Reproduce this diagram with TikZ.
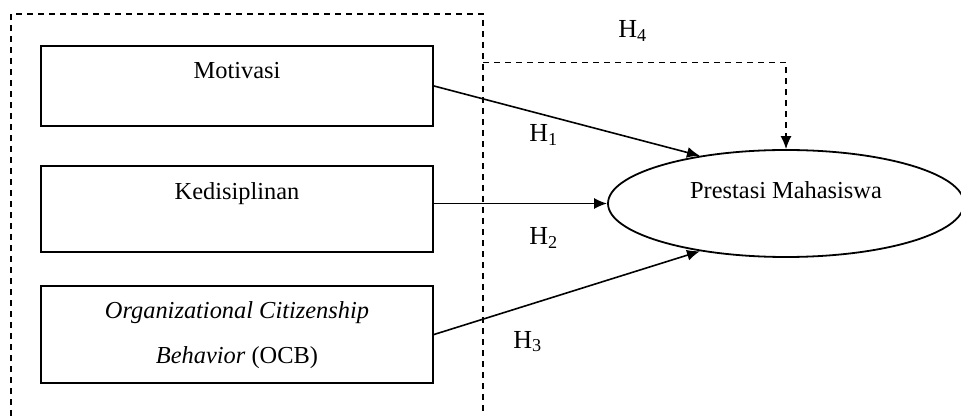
\documentclass[tikz,border=0pt]{standalone}
\usepackage{fontspec}
\setmainfont{Liberation Serif}
\usepackage{tikz}
\usetikzlibrary{
  arrows,
  arrows.meta,
  positioning,
  shapes
}
\tikzset{
  varbox/.style=
  {
    draw=black,
    line width=1pt,
    minimum width=196pt,
    inner sep=0pt
  },
  construct/.style=
  {
    ellipse,
    draw=black,
    line width=0.9pt,
    minimum width=178pt,
    minimum height=53.5pt,
    inner sep=0pt
  },
  caption/.style=
  {
    inner sep=0pt,
    align=center
  },
  hyp/.style=
  {
    inner sep=0pt,
    anchor=base west,
    font=\fontsize{13}{15}\selectfont
  },
  effect/.style=
  {
    line width=0.8pt,
    draw=black,
    -{Latex[length=6.5pt,width=5.5pt]}
  },
  frame/.style=
  {
    dash pattern=on 3pt off 2.5pt,
    line width=0.75pt,
    draw=black
  }
 }

\begin{document}
\begin{tikzpicture}[x=0.5pt, y=-0.5pt, font=\fontsize{12.2}{14}\selectfont]
  \useasboundingbox (0,0) rectangle (961,416);
  % dashed frame round the three variables
  \coordinate (fBL) at (11,416);
  \coordinate (fTL) at (11,14);
  \coordinate (fTR) at (483,14);
  \coordinate (fBR) at (483,416);
  \coordinate (fH4) at (483,62.5);
  \draw[frame] (fBL) -- (fTL) -- (fTR) -- (fBR);
  % variables
  \node[varbox, minimum height=40pt] (mot) at (237,86) {};
  \node[varbox, minimum height=43pt] (kd) at (237,209) {};
  \node[varbox, minimum height=48.5pt] (ocb) at (237,334.5) {};
  \node[construct] (ell) at (786,203.5) {};
  \node[caption, below=8.5pt of mot.north] (motT) {Motivasi};
  \node[caption, below=8.5pt of kd.north] (kdT) {Kedisiplinan};
  \node[caption, below=8pt of ocb.north, font=\fontsize{12.2}{22.5}\selectfont] (ocbT)
    {\textit{Organizational Citizenship}\\\textit{Behavior} (OCB)};
  \node[caption, below=16pt of ell.north] (ellT) {Prestasi Mahasiswa};
  % hypotheses
  \draw[effect] (mot.east) -- (ell.151);
  \draw[effect] (kd.east |- ell.west) -- (ell.west);
  \draw[effect] (ocb.east) -- (ell.209);
  \draw[frame, -{Latex[length=6.5pt,width=5.5pt]}] (fH4) -| (ell.north);
  \node[hyp] (h1) at (529,141.5) {H\textsubscript{1}};
  \node[hyp] (h2) at (529,245) {H\textsubscript{2}};
  \node[hyp] (h3) at (513,348) {H\textsubscript{3}};
  \node[hyp] (h4) at (618,38) {H\textsubscript{4}};
\end{tikzpicture}
\end{document}
